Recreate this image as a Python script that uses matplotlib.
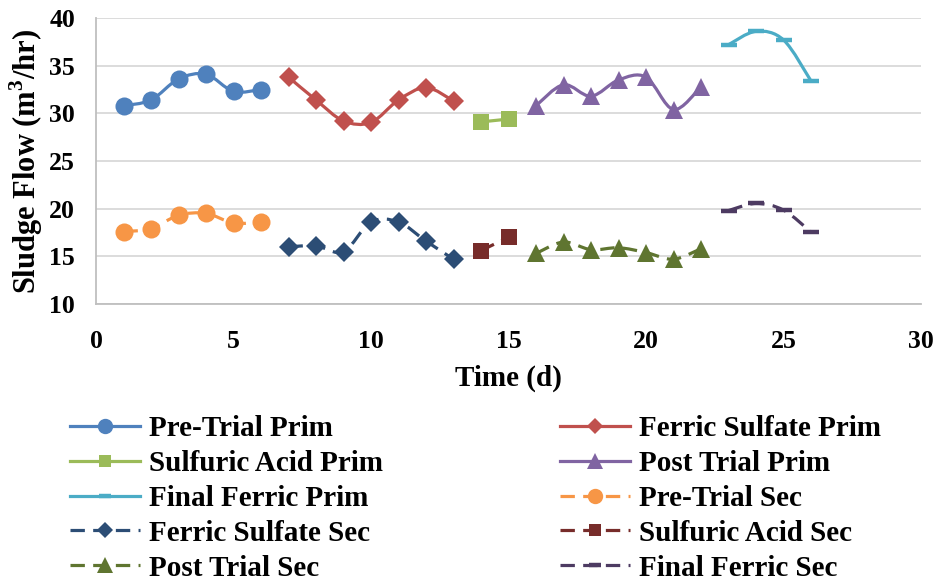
import numpy as np
import matplotlib
matplotlib.use("Agg")
import matplotlib.pyplot as plt
from matplotlib.path import Path
from matplotlib.patches import PathPatch
from matplotlib.lines import Line2D

plt.rcParams['font.family'] = ['Liberation Serif', 'DejaVu Serif']
plt.rcParams['font.weight'] = 'bold'
plt.rcParams['mathtext.fontset'] = 'custom'
plt.rcParams['mathtext.bf'] = 'Liberation Serif:bold'
plt.rcParams['mathtext.rm'] = 'Liberation Serif:bold'

# Sludge flow per trial phase (m3/hr), primary and secondary
pre_days = [1, 2, 3, 4, 5, 6]
pre_prim = [30.8, 31.4, 33.6, 34.1, 32.3, 32.5]
pre_sec = [17.6, 17.9, 19.3, 19.5, 18.5, 18.6]

ferric_days = [7, 8, 9, 10, 11, 12, 13]
ferric_prim = [33.8, 31.4, 29.2, 29.05, 31.4, 32.7, 31.3]
ferric_sec = [16.0, 16.1, 15.5, 18.6, 18.6, 16.6, 14.7]

acid_days = [14, 15]
acid_prim = [29.1, 29.4]
acid_sec = [15.6, 17.0]

post_days = [16, 17, 18, 19, 20, 21, 22]
post_prim = [30.8, 33.0, 31.8, 33.5, 33.8, 30.4, 32.8]
post_sec = [15.3, 16.5, 15.7, 15.9, 15.4, 14.7, 15.8]

final_days = [23, 24, 25, 26]
final_prim = [37.2, 38.6, 37.7, 33.4]
final_sec = [19.8, 20.55, 19.85, 17.55]

x_ticks = [0, 5, 10, 15, 20, 25, 30]
y_ticks = [10, 15, 20, 25, 30, 35, 40]

LW = 2.3
DASH = (0, (4.5, 2.6))

series = [
    ("Pre-Trial Prim", pre_days, pre_prim, "#4F81BD", "o", 13, "-"),
    ("Ferric Sulfate Prim", ferric_days, ferric_prim, "#C0504D", "D", 10, "-"),
    ("Sulfuric Acid Prim", acid_days, acid_prim, "#9BBB59", "s", 11, "-"),
    ("Post Trial Prim", post_days, post_prim, "#8064A2", "^", 13, "-"),
    ("Final Ferric Prim", final_days, final_prim, "#4BACC6", "_", 11, "-"),
    ("Pre-Trial Sec", pre_days, pre_sec, "#F79646", "o", 13, DASH),
    ("Ferric Sulfate Sec", ferric_days, ferric_sec, "#2C4D75", "D", 10, DASH),
    ("Sulfuric Acid Sec", acid_days, acid_sec, "#772C2A", "s", 11, DASH),
    ("Post Trial Sec", post_days, post_sec, "#5F7530", "^", 13, DASH),
    ("Final Ferric Sec", final_days, final_sec, "#4D3B62", "_", 11, DASH),
]


def smooth_path(xs, ys):
    """Cubic Bezier path through the points (Catmull-Rom style control points)."""
    pts = np.column_stack([xs, ys]).astype(float)
    n = len(pts)
    verts = [pts[0]]
    codes = [Path.MOVETO]
    for i in range(n - 1):
        p_prev = pts[i - 1] if i > 0 else pts[i]
        p0, p1 = pts[i], pts[i + 1]
        p_next = pts[i + 2] if i + 2 < n else pts[i + 1]
        c1 = p0 + (p1 - p_prev) / 6.0
        c2 = p1 - (p_next - p0) / 6.0
        verts += [c1, c2, p1]
        codes += [Path.CURVE4] * 3
    return Path(verts, codes)


fig = plt.figure(figsize=(9.38, 5.82), dpi=100)
ax = fig.add_axes([96 / 938, 1 - 304 / 582, (921 - 96) / 938, (304 - 18) / 582])

handles = {}
for name, xs, ys, color, marker, ms, ls in series:
    patch = PathPatch(smooth_path(xs, ys), facecolor="none", edgecolor=color,
                      lw=LW, linestyle=ls, capstyle="butt", joinstyle="round", zorder=3)
    ax.add_patch(patch)
    mew = 3.2 if marker == "_" else 0
    ax.plot(xs, ys, linestyle="none", marker=marker, markersize=ms,
            color=color, markeredgewidth=mew, zorder=4)
    handles[name] = Line2D([], [], color=color, lw=LW, linestyle=ls,
                           marker=marker, markersize=ms * 0.85,
                           markeredgewidth=mew, dash_capstyle="butt")

ax.set_xlim(0, 30)
ax.set_ylim(10, 40)
ax.set_xticks(x_ticks)
ax.set_yticks(y_ticks)
ax.tick_params(axis="both", length=0, labelsize=18.5)
ax.tick_params(axis="x", pad=19)
ax.tick_params(axis="y", pad=15)
for lab in ax.get_xticklabels() + ax.get_yticklabels():
    lab.set_fontweight("bold")
ax.grid(axis="y", color="#D9D9D9", lw=1.3, zorder=0)
ax.set_axisbelow(True)
for side in ("top", "right"):
    ax.spines[side].set_visible(False)
for side in ("left", "bottom"):
    ax.spines[side].set_color("#BFBFBF")
    ax.spines[side].set_linewidth(1.3)

ax.set_xlabel("Time (d)", fontsize=21, fontweight="bold", labelpad=8)
ax.set_ylabel("Sludge Flow (m$^\\mathbf{3}$/hr)", fontsize=22, fontweight="bold", labelpad=3)

left_col = ["Pre-Trial Prim", "Sulfuric Acid Prim", "Final Ferric Prim",
            "Ferric Sulfate Sec", "Post Trial Sec"]
right_col = ["Ferric Sulfate Prim", "Post Trial Prim", "Pre-Trial Sec",
             "Sulfuric Acid Sec", "Final Ferric Sec"]

for names, x0 in ((left_col, 70 / 938), (right_col, 560 / 938)):
    fig.legend([handles[n] for n in names], names, loc="upper left",
               bbox_to_anchor=(x0, 1 - 415 / 582), frameon=False,
               prop={"size": 21, "weight": "bold"}, handlelength=2.4,
               handletextpad=0.3, labelspacing=0.27, borderpad=0,
               borderaxespad=0)

fig.savefig("out.png", dpi=100)
